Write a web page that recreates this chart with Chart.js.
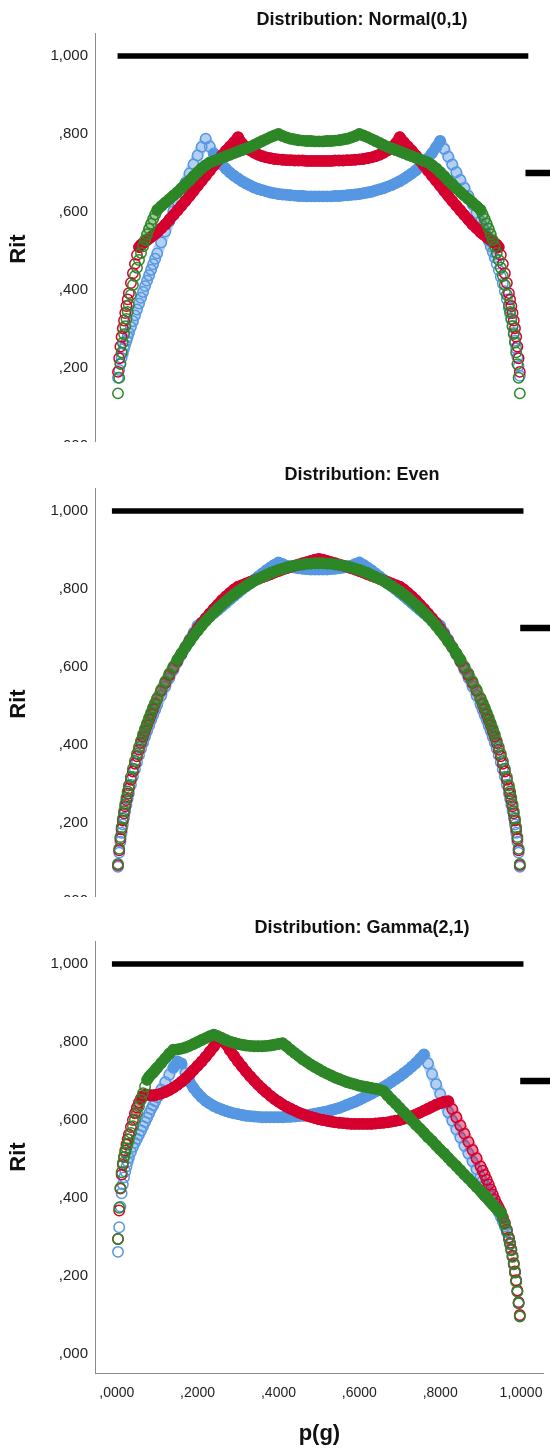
<!DOCTYPE html>
<html>
<head>
<meta charset="utf-8">
<script src="https://cdn.jsdelivr.net/npm/chart.js@4.4.1/dist/chart.umd.min.js"></script>
<style>
  html, body { margin: 0; padding: 0; background: #fff; }
  body { width: 550px; height: 1448px; position: relative; overflow: hidden; }
  .panel { position: absolute; left: 0; width: 550px; overflow: hidden; }
  canvas { display: block; }
</style>
</head>
<body>
<div class="panel" style="top:0;height:442px"><canvas id="c0" width="550" height="540"></canvas></div>
<div class="panel" style="top:455px;height:442px"><canvas id="c1" width="550" height="540"></canvas></div>
<div class="panel" style="top:908px;height:540px"><canvas id="c2" width="550" height="540"></canvas></div>
<script>
// p(g) values shared by every series (denser near the ends)
var pGrid = [0.003,0.006,0.009,0.012,0.015,0.018,0.021,0.024,0.027,0.03,0.035,0.04,0.045,0.05,
  0.055,0.06,0.065,0.07,0.075,0.08,0.085,0.09,0.095,
  0.10,0.11,0.12,0.13,0.14,0.15,0.16,0.17,0.18,0.19,0.20,0.21,0.22,0.23,0.24,0.25,0.26,0.27,0.28,0.29,
  0.30,0.31,0.32,0.33,0.34,0.35,0.36,0.37,0.38,0.39,0.40,0.41,0.42,0.43,0.44,0.45,0.46,0.47,0.48,0.49,0.50,
  0.51,0.52,0.53,0.54,0.55,0.56,0.57,0.58,0.59,0.60,0.61,0.62,0.63,0.64,0.65,0.66,0.67,0.68,0.69,0.70,
  0.71,0.72,0.73,0.74,0.75,0.76,0.77,0.78,0.79,0.80,0.81,0.82,0.83,0.84,0.85,0.86,0.87,0.88,0.89,0.90,
  0.905,0.91,0.915,0.92,0.925,0.93,0.935,0.94,0.945,
  0.95,0.955,0.96,0.965,0.97,0.973,0.976,0.979,0.982,0.985,0.988,0.991,0.994,0.997];

// Distribution: Normal(0,1)
var normalBlue = [0.175,0.195,0.212,0.226,0.238,0.25,0.26,0.27,0.28,0.29,0.305,0.32,0.335,0.35,
  0.365,0.38,0.395,0.41,0.424,0.438,0.452,0.466,0.48,
  0.494,0.522,0.55,0.576,0.602,0.627,0.651,0.675,0.699,0.722,0.745,0.767,0.788,
  0.768,0.75,0.735,0.722,0.711,0.701,0.693,0.686,0.679,0.673,0.668,0.663,0.659,0.656,0.653,0.65,0.648,0.646,0.645,0.644,0.643,0.642,0.641,0.641,0.64,0.64,0.64,0.64,
  0.64,0.64,0.64,0.641,0.641,0.642,0.643,0.644,0.645,0.646,0.648,0.65,0.652,0.655,0.658,0.661,0.665,0.669,0.674,0.679,
  0.685,0.692,0.699,0.707,0.716,0.726,0.738,0.751,0.766,0.782,
  0.762,0.742,0.722,0.702,0.682,0.662,0.641,0.62,0.598,0.576,
  0.564,0.552,0.539,0.526,0.512,0.498,0.483,0.467,0.451,
  0.434,0.416,0.397,0.376,0.354,0.34,0.324,0.308,0.29,0.27,0.25,0.228,0.205,0.18];
var normalRed = [0.19,0.225,0.255,0.28,0.302,0.322,0.341,0.359,0.376,0.392,0.418,0.443,0.467,0.49,
  0.51,0.516,0.52,0.524,0.528,0.532,0.536,0.54,0.544,
  0.548,0.558,0.568,0.58,0.592,0.604,0.616,0.628,0.641,0.654,0.667,0.68,0.693,0.706,0.719,0.732,0.745,0.757,0.768,0.779,0.792,
  0.776,0.766,0.758,0.752,0.747,0.743,0.74,0.738,0.736,0.735,0.734,0.733,0.733,0.732,0.732,0.732,0.731,0.731,0.731,0.731,
  0.731,0.731,0.731,0.732,0.732,0.732,0.733,0.733,0.734,0.735,0.736,0.738,0.74,0.743,0.747,0.752,0.758,0.766,0.776,
  0.792,0.779,0.768,0.757,0.745,0.732,0.719,0.706,0.693,0.68,0.667,0.654,0.641,0.628,0.616,0.604,0.592,0.58,0.568,0.558,0.548,
  0.544,0.54,0.536,0.532,0.528,0.524,0.52,0.516,0.51,
  0.49,0.467,0.443,0.418,0.392,0.376,0.359,0.341,0.322,0.302,0.28,0.255,0.225,0.19];
var normalGreen = [0.135,0.175,0.21,0.24,0.265,0.287,0.307,0.326,0.344,0.361,0.388,0.413,0.436,0.457,
  0.477,0.495,0.512,0.528,0.543,0.557,0.57,0.582,0.594,
  0.605,0.615,0.624,0.633,0.642,0.651,0.661,0.671,0.681,0.692,0.702,0.712,0.72,
  0.727,0.731,0.735,0.739,0.743,0.747,0.751,0.755,0.759,0.763,0.767,0.772,0.777,0.782,0.787,0.792,0.796,0.80,
  0.795,0.791,0.788,0.786,0.784,0.783,0.782,0.782,0.781,0.781,
  0.781,0.782,0.782,0.783,0.784,0.786,0.788,0.791,0.795,
  0.80,0.796,0.792,0.787,0.782,0.777,0.772,0.767,0.763,0.759,0.755,0.751,0.747,0.743,0.739,0.735,0.731,0.727,
  0.72,0.712,0.702,0.692,0.681,0.671,0.661,0.651,0.642,0.633,0.624,0.615,0.605,
  0.594,0.582,0.57,0.557,0.543,0.528,0.512,0.495,0.477,
  0.457,0.436,0.413,0.388,0.361,0.344,0.326,0.307,0.287,0.265,0.24,0.21,0.175,0.135];

// Distribution: Even
var evenBlue = [0.088,0.124,0.152,0.175,0.196,0.214,0.231,0.247,0.262,0.276,0.298,0.319,0.338,0.356,
  0.374,0.39,0.406,0.421,0.436,0.45,0.464,0.477,0.49,
  0.503,0.527,0.55,0.572,0.593,0.613,0.632,0.651,0.67,0.688,0.706,0.714,0.722,0.73,0.738,0.746,0.755,0.764,0.773,0.782,
  0.79,0.799,0.807,0.816,0.824,0.832,0.84,0.848,0.855,0.862,0.868,0.864,0.86,0.857,0.855,0.853,0.852,0.851,0.85,0.85,0.85,
  0.85,0.85,0.851,0.852,0.853,0.855,0.857,0.86,0.864,0.868,0.862,0.855,0.848,0.84,0.832,0.824,0.816,0.807,0.799,0.79,
  0.782,0.773,0.764,0.755,0.746,0.738,0.73,0.722,0.714,0.706,0.688,0.67,0.651,0.632,0.613,0.593,0.572,0.55,0.527,0.503,
  0.49,0.477,0.464,0.45,0.436,0.421,0.406,0.39,0.374,
  0.356,0.338,0.319,0.298,0.276,0.262,0.247,0.231,0.214,0.196,0.175,0.152,0.124,0.088];
var evenRed = [0.092,0.13,0.159,0.184,0.206,0.225,0.243,0.259,0.275,0.289,0.311,0.332,0.352,0.371,
  0.388,0.405,0.421,0.436,0.451,0.465,0.479,0.492,0.505,
  0.518,0.539,0.559,0.579,0.598,0.616,0.634,0.651,0.667,0.683,0.698,0.712,0.725,0.737,0.749,0.76,0.771,0.781,0.79,0.799,
  0.806,0.81,0.814,0.818,0.822,0.826,0.83,0.834,0.838,0.842,0.846,0.85,0.853,0.857,0.86,0.863,0.866,0.869,0.872,0.875,0.877,
  0.875,0.872,0.869,0.866,0.863,0.86,0.857,0.853,0.85,0.846,0.842,0.838,0.834,0.83,0.826,0.822,0.818,0.814,0.81,0.806,
  0.799,0.79,0.781,0.771,0.76,0.749,0.737,0.725,0.712,0.698,0.683,0.667,0.651,0.634,0.616,0.598,0.579,0.559,0.539,0.518,
  0.505,0.492,0.479,0.465,0.451,0.436,0.421,0.405,0.388,
  0.371,0.352,0.332,0.311,0.289,0.275,0.259,0.243,0.225,0.206,0.184,0.159,0.13,0.092];
var evenGreen = [0.095,0.134,0.164,0.189,0.211,0.23,0.248,0.265,0.281,0.296,0.318,0.339,0.359,0.378,
  0.395,0.411,0.427,0.442,0.456,0.47,0.483,0.496,0.508,
  0.52,0.542,0.563,0.583,0.601,0.619,0.635,0.651,0.665,0.68,0.693,0.706,0.718,0.729,0.74,0.75,0.76,0.769,0.778,0.786,
  0.794,0.801,0.808,0.814,0.821,0.826,0.831,0.836,0.841,0.845,0.849,0.852,0.855,0.858,0.86,0.862,0.863,0.865,0.865,0.866,0.866,
  0.866,0.865,0.865,0.863,0.862,0.86,0.858,0.855,0.852,0.849,0.845,0.841,0.836,0.831,0.826,0.821,0.814,0.808,0.801,0.794,
  0.786,0.778,0.769,0.76,0.75,0.74,0.729,0.718,0.706,0.693,0.68,0.665,0.651,0.635,0.619,0.601,0.583,0.563,0.542,0.52,
  0.508,0.496,0.483,0.47,0.456,0.442,0.427,0.411,0.395,
  0.378,0.359,0.339,0.318,0.296,0.281,0.265,0.248,0.23,0.211,0.189,0.164,0.134,0.095];

// Distribution: Gamma(2,1)
var gammaBlue = [0.262,0.325,0.378,0.412,0.435,0.453,0.468,0.481,0.493,0.503,0.518,0.531,0.542,0.552,
  0.562,0.573,0.584,0.595,0.606,0.617,0.628,0.638,0.648,
  0.658,0.678,0.697,0.716,0.734,0.75,0.745,0.72,0.698,0.682,0.669,
  0.658,0.649,0.642,0.636,0.631,0.627,0.623,0.62,0.617,0.615,
  0.613,0.611,0.61,0.609,0.608,0.607,0.607,0.607,0.607,0.607,
  0.607,0.608,0.608,0.609,0.61,0.611,0.612,0.614,0.616,0.618,
  0.62,0.622,0.625,0.628,0.631,0.635,0.639,0.643,0.647,0.652,
  0.657,0.662,0.667,0.673,0.679,0.685,0.691,0.698,0.705,0.712,
  0.72,0.728,0.737,0.746,0.757,0.768,0.745,0.718,0.692,0.667,
  0.643,0.62,0.598,0.576,0.555,0.534,0.514,0.494,0.474,0.454,
  0.444,0.434,0.424,0.414,0.404,0.394,0.384,0.374,0.363,
  0.352,0.34,0.327,0.312,0.294,0.281,0.266,0.249,0.23,0.209,0.186,0.16,0.13,0.098];
var gammaRed = [0.295,0.368,0.424,0.46,0.485,0.505,0.522,0.537,0.551,0.563,0.582,0.6,0.617,0.632,
  0.645,0.655,0.662,0.665,0.665,0.664,0.663,0.663,0.664,
  0.665,0.668,0.672,0.677,0.683,0.69,0.698,0.707,0.717,0.728,0.739,
  0.75,0.762,0.775,0.788,0.802,0.81,0.795,0.779,0.764,0.75,
  0.737,0.724,0.712,0.701,0.69,0.68,0.671,0.662,0.654,0.647,
  0.64,0.634,0.629,0.624,0.619,0.615,0.611,0.608,0.605,0.602,
  0.6,0.598,0.596,0.594,0.593,0.592,0.591,0.59,0.59,0.59,
  0.59,0.59,0.59,0.591,0.592,0.593,0.594,0.596,0.598,0.6,
  0.603,0.606,0.61,0.614,0.619,0.624,0.629,0.634,0.639,0.643,
  0.647,0.648,0.628,0.607,0.586,0.565,0.544,0.523,0.502,0.481,
  0.47,0.459,0.447,0.435,0.422,0.409,0.396,0.385,0.375,
  0.365,0.351,0.336,0.319,0.299,0.285,0.269,0.252,0.233,0.212,0.189,0.163,0.133,0.1];
var gammaGreen = [0.295,0.375,0.426,0.466,0.49,0.505,0.517,0.528,0.539,0.55,0.567,0.584,0.601,0.618,
  0.635,0.652,0.669,0.686,0.703,0.711,0.717,0.722,0.728,
  0.734,0.746,0.758,0.77,0.78,0.781,0.783,0.786,0.79,0.795,0.80,
  0.805,0.81,0.815,0.819,0.815,0.81,0.805,0.801,0.798,0.795,
  0.793,0.791,0.79,0.789,0.789,0.789,0.79,0.791,0.793,0.795,
  0.797,0.789,0.78,0.772,0.764,0.756,0.749,0.742,0.736,0.73,
  0.724,0.719,0.714,0.709,0.705,0.701,0.697,0.694,0.691,0.688,
  0.686,0.684,0.682,0.68,0.678,0.674,0.663,0.652,0.642,0.631,
  0.62,0.61,0.599,0.588,0.578,0.567,0.556,0.546,0.535,0.524,
  0.514,0.503,0.492,0.482,0.471,0.46,0.45,0.439,0.428,0.418,
  0.412,0.406,0.401,0.395,0.389,0.383,0.378,0.372,0.367,
  0.362,0.348,0.333,0.316,0.296,0.282,0.266,0.249,0.23,0.209,0.186,0.16,0.13,0.096];

var panelTitles = ['Distribution: Normal(0,1)', 'Distribution: Even', 'Distribution: Gamma(2,1)'];
var xTickValues = [0, 0.2, 0.4, 0.6, 0.8, 1.0];
var xTickLabels = [',0000', ',2000', ',4000', ',6000', ',8000', '1,0000'];
var yTickValues = [0, 0.2, 0.4, 0.6, 0.8, 1.0];
var yTickLabels = [',000', ',200', ',400', ',600', ',800', '1,000'];

// black reference line at Rit = 1 and the short mark at ,700 on the right
var topLevel = 1.0;
var topFrom = [0.002, -0.012, -0.012];
var topTo = [1.018, 1.006, 1.006];
var markLevel = 0.7;
var markFrom = [1.011, 0.998, 0.998];
var markTo = [1.2, 1.2, 1.2];

var blueColor = 'rgb(86,151,227)', blueFade = 'rgba(86,151,227,0.45)';
var redColor = 'rgb(214,0,47)', redFade = 'rgba(214,0,47,0.45)';
var greenColor = 'rgb(46,135,39)', greenFade = 'rgba(46,135,39,0.45)';

Chart.defaults.font.family = '"Liberation Sans", Arial, sans-serif';
Chart.defaults.color = '#222';

var titlePlugin = {
  id: 'panelTitle',
  afterDraw: function(chart, args, opts) {
    var ctx = chart.ctx;
    ctx.save();
    ctx.font = 'bold 18px "Liberation Sans", Arial, sans-serif';
    ctx.fillStyle = '#111';
    ctx.textAlign = 'center';
    ctx.textBaseline = 'middle';
    ctx.fillText(opts.text, 362, 20);
    ctx.restore();
  }
};

function points(ys) {
  return pGrid.map(function(p, i) { return {x: p, y: ys[i]}; });
}

// flat stretches look like a solid band of rings, steep ones show the single rings
function segColor(full, fade) {
  return function(c) {
    var dx = Math.abs(c.p1.x - c.p0.x), dy = Math.abs(c.p1.y - c.p0.y);
    var s = dy / Math.max(dx, 0.01);
    if (s < 1.6) return full;
    if (s < 3) return fade;
    return 'rgba(0,0,0,0)';
  };
}

function circles(ys, color, fade, order) {
  return {
    data: points(ys),
    showLine: true,
    borderColor: color,
    borderWidth: 11,
    borderCapStyle: 'round',
    borderJoinStyle: 'round',
    segment: { borderColor: segColor(color, fade) },
    pointBorderColor: color,
    pointBackgroundColor: 'rgba(0,0,0,0)',
    pointRadius: 5.2,
    pointBorderWidth: 1.5,
    pointHoverRadius: 5.2,
    order: order
  };
}

function refLine(x0, x1, level, width) {
  return {
    type: 'line',
    data: [{x: x0, y: level}, {x: x1, y: level}],
    borderColor: '#000',
    borderWidth: width,
    pointRadius: 0,
    borderCapStyle: 'butt',
    clip: false,
    order: 5
  };
}

function makePanel(id, k, blue, red, green) {
  new Chart(document.getElementById(id), {
    type: 'scatter',
    data: {
      datasets: [
        circles(green, greenColor, greenFade, 0),
        circles(red, redColor, redFade, 1),
        circles(blue, blueColor, blueFade, 2),
        refLine(topFrom[k], topTo[k], topLevel, 5.5),
        refLine(markFrom[k], markTo[k], markLevel, 6.5)
      ]
    },
    options: {
      responsive: false,
      animation: false,
      events: [],
      layout: { padding: { top: 33, right: 2, left: 0, bottom: 0 } },
      plugins: {
        legend: { display: false },
        tooltip: { enabled: false },
        panelTitle: { text: panelTitles[k] }
      },
      scales: {
        x: {
          type: 'linear',
          min: -0.0526,
          max: 1.0551,
          grid: { display: false, drawTicks: false },
          border: { display: true, color: '#8c8c8c', width: 1 },
          afterBuildTicks: function(s) { s.ticks = xTickValues.map(function(v) { return {value: v}; }); },
          afterFit: function(s) { s.height = 75; s.paddingLeft = 0; s.paddingRight = 0; },
          ticks: {
            autoSkip: false,
            maxRotation: 0,
            padding: 12,
            font: { size: 14 },
            color: '#222',
            callback: function(v, i) { return xTickLabels[i]; }
          },
          title: {
            display: true,
            text: 'p(g)',
            font: { size: 22, weight: 'bold' },
            color: '#111',
            padding: { top: 0, bottom: 1 }
          }
        },
        y: {
          type: 'linear',
          min: -0.0487,
          max: 1.059,
          grid: { display: false, drawTicks: false },
          border: { display: true, color: '#8c8c8c', width: 1 },
          afterBuildTicks: function(s) { s.ticks = yTickValues.map(function(v) { return {value: v}; }); },
          afterFit: function(s) { s.width = 95.5; s.paddingTop = 0; s.paddingBottom = 0; },
          ticks: {
            autoSkip: false,
            padding: 7.5,
            font: { size: 15 },
            color: '#222',
            callback: function(v, i) { return yTickLabels[i]; }
          },
          title: {
            display: true,
            text: 'Rit',
            font: { size: 22, weight: 'bold' },
            color: '#111',
            padding: { top: 6, bottom: 0 }
          }
        }
      }
    },
    plugins: [titlePlugin]
  });
}

makePanel('c0', 0, normalBlue, normalRed, normalGreen);
makePanel('c1', 1, evenBlue, evenRed, evenGreen);
makePanel('c2', 2, gammaBlue, gammaRed, gammaGreen);
</script>
</body>
</html>
